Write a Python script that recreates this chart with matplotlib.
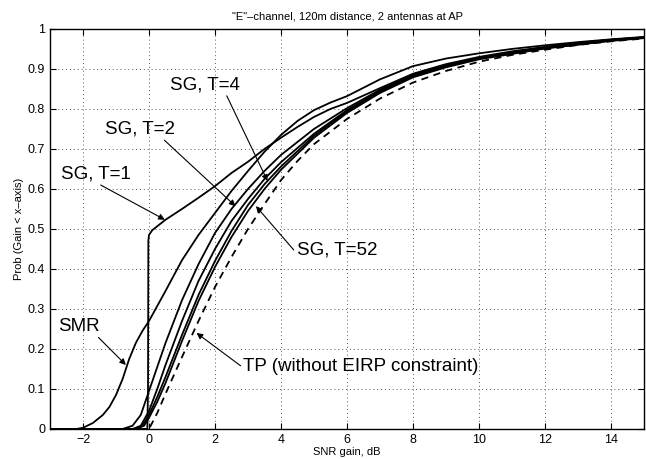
import matplotlib
matplotlib.use("Agg")
import matplotlib.pyplot as plt

plt.rcParams['font.family'] = ['Liberation Sans', 'DejaVu Sans']

# ---- data ----
smr_x = [-3, -2.2, -2, -1.7, -1.4, -1.2, -1, -0.8, -0.6, -0.4, -0.2, 0, 0.5, 1, 1.5, 2, 2.5, 3, 3.5, 4,
         4.5, 5, 5.5, 6, 7, 8, 9, 10, 11, 12, 13, 14, 15]
smr_y = [0, 0, 0.003, 0.015, 0.035, 0.055, 0.085, 0.125, 0.175, 0.215, 0.245, 0.27, 0.345, 0.422, 0.485,
         0.54, 0.595, 0.645, 0.693, 0.735, 0.77, 0.797, 0.816, 0.832, 0.874, 0.907, 0.926, 0.939, 0.95,
         0.959, 0.967, 0.974, 0.98]

t1_x = [-3, -0.05, -0.03, -0.02, 0.0, 0.1, 0.5, 1, 1.5, 2, 2.5, 3, 3.5, 4, 4.5, 5, 5.5, 6, 7, 8, 9, 10,
        11, 12, 13, 14, 15]
t1_y = [0, 0, 0.1, 0.47, 0.485, 0.497, 0.523, 0.55, 0.578, 0.607, 0.64, 0.668, 0.7, 0.728, 0.755, 0.78,
        0.8, 0.815, 0.852, 0.888, 0.912, 0.93, 0.944, 0.955, 0.965, 0.973, 0.979]

t2_x = [-3, -0.8, -0.5, -0.25, 0, 0.5, 1, 1.5, 2, 2.5, 3, 3.5, 4, 5, 6, 7, 8, 9, 10, 11, 12, 13, 14, 15]
t2_y = [0, 0, 0.008, 0.035, 0.095, 0.215, 0.322, 0.412, 0.49, 0.55, 0.6, 0.645, 0.685, 0.75, 0.802,
        0.848, 0.886, 0.91, 0.928, 0.942, 0.954, 0.964, 0.973, 0.979]

tA_x = [-3, -0.5, -0.25, 0, 0.25, 0.5, 1, 1.5, 2, 2.5, 3, 3.5, 4, 5, 6, 7, 8, 9, 10, 12, 14, 15]
tA_y = [0, 0, 0.008, 0.045, 0.1, 0.16, 0.27, 0.37, 0.45, 0.52, 0.575, 0.625, 0.667, 0.738, 0.797,
        0.845, 0.884, 0.908, 0.927, 0.953, 0.972, 0.978]

t4_x = [-3, -0.45, -0.2, 0, 0.25, 0.5, 1, 1.5, 2, 2.5, 3, 3.5, 4, 5, 6, 7, 8, 9, 10, 12, 14, 15]
t4_y = [0, 0, 0.008, 0.035, 0.08, 0.13, 0.235, 0.335, 0.42, 0.495, 0.56, 0.612, 0.656, 0.733, 0.794,
        0.843, 0.882, 0.906, 0.926, 0.952, 0.971, 0.978]

t52_x = [-3, -0.4, -0.15, 0, 0.25, 0.5, 1, 1.5, 2, 2.5, 3, 3.5, 4, 5, 6, 7, 8, 9, 10, 12, 14, 15]
t52_y = [0, 0, 0.008, 0.028, 0.068, 0.115, 0.22, 0.32, 0.405, 0.48, 0.545, 0.6, 0.648, 0.728, 0.79,
         0.84, 0.879, 0.904, 0.924, 0.951, 0.97, 0.977]

tp_x = [-3, 0, 0.25, 0.5, 1, 1.5, 2, 2.5, 3, 3.5, 4, 4.5, 5, 6, 7, 8, 9, 10, 11, 12, 13, 14, 15]
tp_y = [0, 0, 0.04, 0.088, 0.18, 0.27, 0.355, 0.43, 0.5, 0.562, 0.622, 0.67, 0.712, 0.775, 0.826,
        0.866, 0.895, 0.918, 0.935, 0.948, 0.96, 0.969, 0.976]

x_ticks = [-2, 0, 2, 4, 6, 8, 10, 12, 14]
y_ticks = [0, 0.1, 0.2, 0.3, 0.4, 0.5, 0.6, 0.7, 0.8, 0.9, 1]
y_tick_labels = ['0', '0.1', '0.2', '0.3', '0.4', '0.5', '0.6', '0.7', '0.8', '0.9', '1']

title = '"E"\u2013channel, 120m distance, 2 antennas at AP'
xlabel = 'SNR gain, dB'
ylabel = 'Prob (Gain < x\u2013axis)'

# ---- figure ----
fig = plt.figure(figsize=(6.46, 4.59), dpi=100)
ax = fig.add_axes([0.0774, 0.0654, 0.9196, 0.8716])

lw = 1.3
for xs, ys in [(smr_x, smr_y), (t1_x, t1_y), (t2_x, t2_y), (tA_x, tA_y), (t4_x, t4_y), (t52_x, t52_y)]:
    ax.plot(xs, ys, color='k', lw=lw, solid_joinstyle='round')
ax.plot(tp_x, tp_y, color='k', lw=lw, ls=(0, (4, 3)))

ax.set_xlim(-3, 15)
ax.set_ylim(0, 1)
ax.set_xticks(x_ticks)
ax.set_xticklabels([str(v).replace('-', '\u2212') for v in x_ticks])
ax.set_yticks(y_ticks)
ax.set_yticklabels(y_tick_labels)
ax.tick_params(direction='in', top=True, right=True, length=4, width=0.8, labelsize=9)
ax.grid(True, ls=(0, (1, 3)), color='0.35', lw=0.7)
for s in ax.spines.values():
    s.set_linewidth(1.0)

ax.set_title(title, fontsize=8, pad=7)
ax.set_xlabel(xlabel, fontsize=8, labelpad=1)
ax.set_ylabel(ylabel, fontsize=8, labelpad=3)

ap = dict(arrowstyle='-|>', color='k', lw=0.8, mutation_scale=9, shrinkA=0, shrinkB=0)
fs = 13.5
ax.annotate('SG, T=4', xy=(3.59, 0.62), xytext=(1.68, 0.861), fontsize=fs,
            ha='center', va='center', arrowprops=dict(ap, relpos=(0.8, 0.0)))
ax.annotate('SG, T=2', xy=(2.62, 0.557), xytext=(-0.26, 0.75), fontsize=fs,
            ha='center', va='center', arrowprops=dict(ap, relpos=(0.8, 0.0)))
ax.annotate('SG, T=1', xy=(0.48, 0.523), xytext=(-1.62, 0.638), fontsize=fs,
            ha='center', va='center', arrowprops=dict(ap, relpos=(0.5, 0.0)))
ax.annotate('SMR', xy=(-0.7, 0.16), xytext=(-2.12, 0.257), fontsize=fs,
            ha='center', va='center', arrowprops=dict(ap, relpos=(0.9, 0.0)))
ax.annotate('TP (without EIRP constraint)', xy=(1.44, 0.24), xytext=(2.86, 0.157), fontsize=fs,
            ha='left', va='center', arrowprops=dict(ap, relpos=(0.0, 0.4)))
ax.annotate('SG, T=52', xy=(3.24, 0.557), xytext=(4.47, 0.448), fontsize=fs,
            ha='left', va='center', arrowprops=dict(ap, relpos=(0.0, 0.3)))

fig.savefig('out.png', dpi=100)
